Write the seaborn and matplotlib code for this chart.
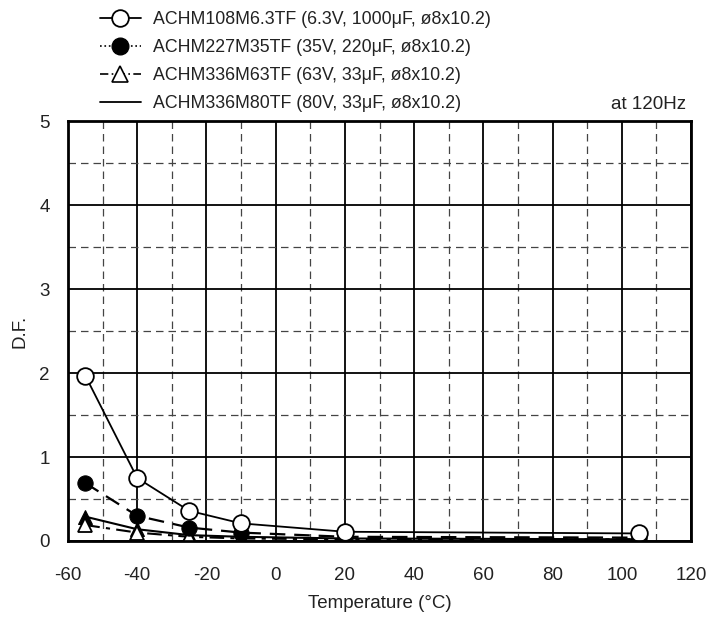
import pandas as pd
import numpy as np
import seaborn as sns
import matplotlib
matplotlib.use("Agg")
import matplotlib.pyplot as plt
from matplotlib.lines import Line2D
# --------------------------------------------------------------------------------------------------
# Data (D.F. vs temperature, at 120Hz)
temps = [-55, -40, -25, -10, 20, 105]
df_108m63 = [1.97, 0.75, 0.36, 0.21, 0.11, 0.09]
df_227m35 = [0.69, 0.30, 0.16, 0.10, 0.05, 0.04]
df_336m63 = [0.19, 0.10, 0.05, 0.03, 0.02, 0.02]
df_336m80 = [0.29, 0.14, 0.07, 0.05, 0.03, 0.02]

labels = [
    "ACHM108M6.3TF (6.3V, 1000\u03bcF, \u00f88x10.2)",
    "ACHM227M35TF (35V, 220\u03bcF, \u00f88x10.2)",
    "ACHM336M63TF (63V, 33\u03bcF, \u00f88x10.2)",
    "ACHM336M80TF (80V, 33\u03bcF, \u00f88x10.2)",
]
x_ticks = [-60, -40, -20, 0, 20, 40, 60, 80, 100, 120]
y_ticks = [0, 1, 2, 3, 4, 5]
# --------------------------------------------------------------------------------------------------
sns.set_style("white")
plt.rcParams['font.family'] = ['Liberation Sans', 'DejaVu Sans']
plt.rcParams['axes.unicode_minus'] = False

fig = plt.figure(figsize=(7.11, 6.18), dpi=100)
ax = fig.add_axes([0.0956, 0.1246, 0.8764, 0.6794])

# Grid: solid at major ticks, dashed halfway between
ax.set_xticks(x_ticks)
ax.set_yticks(y_ticks)
ax.set_xticks(np.arange(-50, 120, 20), minor=True)
ax.set_yticks(np.arange(0.5, 5, 1), minor=True)
ax.grid(which="major", color="black", lw=1.3, ls="-")
ax.grid(which="minor", color="#444444", lw=0.9, ls=(0, (6, 4)))
ax.set_axisbelow(True)

# Series 4: solid line, filled triangles
sns.lineplot(x=temps, y=df_336m80, ax=ax, color="black", lw=1.5, ls="-",
             marker="^", markersize=10, markerfacecolor="black", markeredgecolor="black")
# Series 3: dash-dot line, open triangles
sns.lineplot(x=temps, y=df_336m63, ax=ax, color="black", lw=1.5, ls=(0, (7, 3, 2, 3)),
             marker="^", markersize=10, markerfacecolor="white", markeredgecolor="black", markeredgewidth=1.3)
# Series 2: dashed line, filled circles
sns.lineplot(x=temps, y=df_227m35, ax=ax, color="black", lw=1.6, ls=(0, (7, 4)),
             marker="o", markersize=11, markerfacecolor="black", markeredgecolor="black")
# Series 1: solid line, open circles
sns.lineplot(x=temps, y=df_108m63, ax=ax, color="black", lw=1.3, ls="-",
             marker="o", markersize=12, markerfacecolor="white", markeredgecolor="black", markeredgewidth=1.3)

ax.set_xlim(-60, 120)
ax.set_ylim(0, 5)
ax.tick_params(axis="both", which="major", direction="in", length=4, labelsize=13.5,
               color="black", labelcolor="#222222")
ax.tick_params(axis="x", which="major", pad=19)
ax.tick_params(axis="y", which="major", pad=13)
ax.tick_params(axis="both", which="minor", length=0)
for spine in ax.spines.values():
    spine.set_color("black")
    spine.set_linewidth(2)
ax.set_xlabel("Temperature (\u00b0C)", fontsize=13.5, color="#222222", labelpad=8)
ax.set_ylabel("D.F.", fontsize=13.5, color="#222222", labelpad=8)

# Legend matching the datasheet keys
handles = [
    Line2D([], [], color="black", lw=1.3, marker="o", markersize=12,
           markerfacecolor="white", markeredgewidth=1.3),
    Line2D([], [], color="black", lw=1.2, ls=":", marker="o", markersize=12,
           markerfacecolor="black"),
    Line2D([], [], color="black", lw=1.2, ls=(0, (5, 2, 1, 2)), marker="^", markersize=11,
           markerfacecolor="white", markeredgewidth=1.2),
    Line2D([], [], color="black", lw=1.3, ls="-"),
]
fig.legend(handles, labels, loc="upper left", bbox_to_anchor=(100 / 711, 1 - 11 / 618),
           frameon=False, fontsize=12.8, handlelength=2.3, handletextpad=0.7,
           labelspacing=0.62, borderpad=0, borderaxespad=0, labelcolor="#222222")

fig.text(0.965, 0.817, "at 120Hz", ha="right", va="bottom", fontsize=13.5, color="#222222")

fig.savefig("out.png", dpi=100)
